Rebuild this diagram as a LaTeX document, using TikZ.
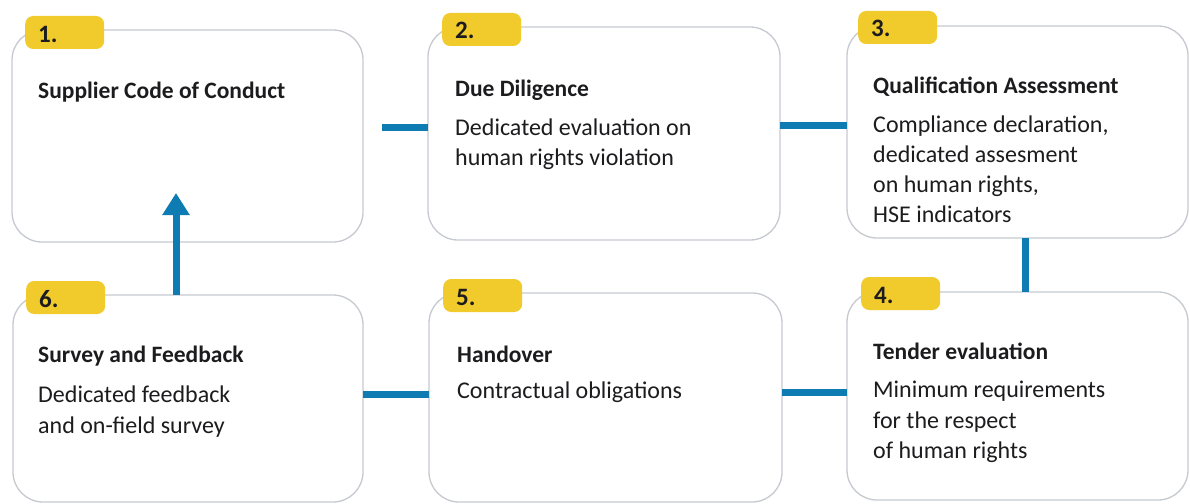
\documentclass[tikz,border=0pt]{standalone}
\usepackage{fontspec}
\setmainfont{Carlito}
\usetikzlibrary{arrows.meta}
\definecolor{flowblue}{RGB}{14,124,178}
\definecolor{tagyellow}{RGB}{241,203,44}
\definecolor{edgegray}{RGB}{198,202,208}
\definecolor{inkblack}{RGB}{28,28,30}
\tikzset{
  box/.style={draw=edgegray, line width=1.3pt, rounded corners=30pt, fill=white, inner sep=0pt, outer sep=0pt},
  tag/.style={fill=tagyellow, rounded corners=8pt, inner ysep=0pt, inner xsep=13pt, text height=26pt, text depth=7pt, text width=53pt, align=left, font=\fontsize{25}{25}\selectfont\bfseries, text=inkblack, anchor=base west},
  ttl/.style={font=\fontsize{23.5}{23.5}\selectfont\bfseries, text=inkblack, inner sep=0pt, anchor=base west},
  bodytxt/.style={font=\fontsize{24}{24}\selectfont, text=inkblack, inner sep=0pt, anchor=base west},
  conn/.style={draw=flowblue, line width=7pt},
  upconn/.style={draw=flowblue, line width=7pt, -{Triangle[width=26pt,length=22pt]}}
}
\begin{document}
\begin{tikzpicture}[x=1pt,y=-1pt]
\fill[white] (0,0) rectangle (1190,503);
\useasboundingbox (0,0) rectangle (1190,503);
% boxes
\node[box, minimum width=351pt, minimum height=212pt] (b1) at (187.5,136) {};
\node[box, minimum width=352pt, minimum height=213pt] (b2) at (604,133.5) {};
\node[box, minimum width=341pt, minimum height=212pt] (b3) at (1017.5,132) {};
\node[box, minimum width=350pt, minimum height=207pt] (b6) at (188,398.5) {};
\node[box, minimum width=353pt, minimum height=209pt] (b5) at (605.5,397.5) {};
\node[box, minimum width=341pt, minimum height=208pt] (b4) at (1017.5,396) {};
% tags
\node[tag] (n1) at (25,42) {1.};
\node[tag] (n2) at (442,39) {2.};
\node[tag] (n3) at (858,37) {3.};
\node[tag] (n6) at (26,307) {6.};
\node[tag] (n5) at (443,305) {5.};
\node[tag] (n4) at (861,303) {4.};
% texts
\node[ttl] (t1) at (38,98) {Supplier Code of Conduct};
\node[ttl] (t2) at (455,96) {Due Diligence};
\node[bodytxt] (d2a) at (455,135) {Dedicated evaluation on};
\node[bodytxt] (d2b) at (455,165) {human rights violation};
\node[ttl] (t3) at (873,93) {Qualification Assessment};
\node[bodytxt] (d3a) at (873,132) {Compliance declaration,};
\node[bodytxt] (d3b) at (873,162) {dedicated assesment};
\node[bodytxt] (d3c) at (873,192) {on human rights,};
\node[bodytxt] (d3d) at (873,222) {HSE indicators};
\node[ttl] (t6) at (38,362) {Survey and Feedback};
\node[bodytxt] (d6a) at (38,402) {Dedicated feedback};
\node[bodytxt] (d6b) at (38,433) {and on-field survey};
\node[ttl] (t5) at (457,362) {Handover};
\node[bodytxt] (d5a) at (457,398) {Contractual obligations};
\node[ttl] (t4) at (873,359) {Tender evaluation};
\node[bodytxt] (d4a) at (873,397) {Minimum requirements};
\node[bodytxt] (d4b) at (873,428) {for the respect};
\node[bodytxt] (d4c) at (873,458) {of human rights};
% connectors
\coordinate (s12) at ([xshift=19pt,yshift=9pt]b1.east);
\draw[conn] (s12) -- (s12 -| b2.west);
\coordinate (s23) at ([yshift=8pt]b2.east);
\draw[conn] (s23) -- (s23 -| b3.west);
\coordinate (s34) at ([xshift=7.5pt]b3.south);
\draw[conn] (s34) -- (s34 |- b4.north);
\coordinate (s45) at ([yshift=4pt]b4.west);
\draw[conn] (s45) -- (s45 -| b5.east);
\coordinate (s56) at ([yshift=3.5pt]b5.west);
\draw[conn] (s56) -- (s56 -| b6.east);
\coordinate (s61) at ([xshift=-12pt]b6.north);
\coordinate (e61) at ([yshift=49pt]b1.south);
\draw[upconn] (s61) -- (s61 |- e61);
\end{tikzpicture}
\end{document}
